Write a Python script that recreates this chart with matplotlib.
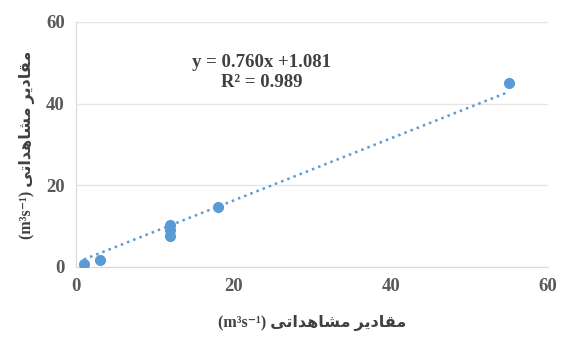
import numpy as np
import matplotlib.pyplot as plt

# observed vs simulated values
x_obs = [1, 3, 12, 12, 12, 18, 55]
y_sim = [0.7, 1.7, 10.2, 9.1, 7.7, 14.8, 45]

# trendline coefficients as printed on the chart
slope = 0.760
intercept = 1.081
r2 = 0.989

xticks = [0, 20, 40, 60]
yticks = [0, 20, 40, 60]

# Persian label in presentation forms, written in visual (left-to-right) order
fa_label = '\uFBFD\uFE97\uFE8D\uFEAA\uFEEB\uFE8E\uFEB8\uFEE3 \uFEAE\uFBFE\uFEA9\uFE8E\uFED8\uFEE3'
axis_label = '(m\u00B3s\u207B\u00B9) ' + fa_label

fonts = ['Liberation Serif', 'DejaVu Sans']
blue = '#5B9BD5'
grey = '#595959'

fig = plt.figure(figsize=(5.61, 3.43), dpi=100)
ax = fig.add_axes([0.1355, 0.2216, 0.8415, 0.7144])

xs = np.array([min(x_obs), max(x_obs)])
ax.plot(xs, slope * xs + intercept, linestyle=':', color=blue, linewidth=1.8, zorder=2)
ax.plot(x_obs, y_sim, 'o', color=blue, markersize=7, zorder=3)

ax.set_xlim(0, 60)
ax.set_ylim(0, 60)
ax.set_xticks(xticks)
ax.set_yticks(yticks)
ax.tick_params(length=0, pad=8, labelcolor=grey)
for lab in ax.get_xticklabels() + ax.get_yticklabels():
    lab.set_family(fonts)
    lab.set_fontweight('bold')
    lab.set_fontsize(13.5)

ax.grid(axis='y', color='#E6E6E6', linewidth=1)
ax.set_axisbelow(True)
for s in ['top', 'right']:
    ax.spines[s].set_visible(False)
for s in ['left', 'bottom']:
    ax.spines[s].set_color('#D9D9D9')

ax.set_xlabel(axis_label, family=fonts, fontweight='bold', fontsize=11.5,
              color='#404040', labelpad=14)
ax.set_ylabel(axis_label, family=fonts, fontweight='bold', fontsize=11.5,
              color='#404040', labelpad=8)

ax.text(23.6, 47.6, f'y = {slope:.3f}x +{intercept:.3f}\nR\u00B2 = {r2:.3f}',
        family=fonts, fontweight='bold', fontsize=13.5, color='#404040',
        ha='center', va='center', linespacing=1.2)

fig.savefig('out.png', dpi=100)
